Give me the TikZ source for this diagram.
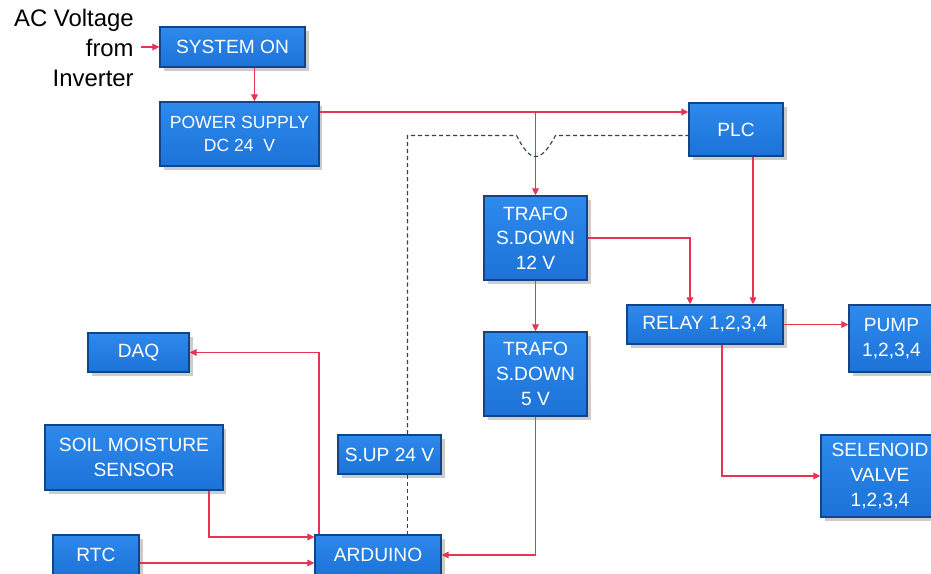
\documentclass[tikz,border=0pt]{standalone}
\usepackage{fontspec}
\setmainfont{Liberation Sans}
\usetikzlibrary{arrows.meta,shadows}
\definecolor{boxblue}{RGB}{28,114,216}
\definecolor{boxlight}{RGB}{46,138,236}
\definecolor{boxedge}{RGB}{18,68,138}
\definecolor{wirered}{RGB}{232,52,82}
\tikzset{
  blk/.style={draw=boxedge,line width=.8pt,top color=boxlight,bottom color=boxblue,
    text=white,align=center,inner sep=0pt,
    font=\fontsize{10.9}{14}\selectfont,
    drop shadow={opacity=.4,shadow xshift=2pt,shadow yshift=-2pt}},
  wire/.style={draw=wirered,line width=.7pt,-{Triangle[length=4pt,width=3.8pt]}},
  dashline/.style={draw=black!75,line width=.65pt,dash pattern=on 2.4pt off 1.6pt},
}
\begin{document}
\begin{tikzpicture}[x=0.02cm,y=-0.02cm]
	\useasboundingbox (0,0) rectangle (931,574);
	% blocks
	\node[anchor=east,align=right,inner sep=0pt,font=\fontsize{13.6}{17}\selectfont] (ac) at (134,48) {AC Voltage\\from\\Inverter};
	\node[blk,minimum width=2.9cm,minimum height=.8cm] (sys) at (232.5,47) {SYSTEM ON};
	\node[blk,minimum width=3.18cm,minimum height=1.28cm,font=\fontsize{10}{13.5}\selectfont] (psu) at (239.5,134) {POWER SUPPLY\\DC 24\ \ V};
	\node[blk,minimum width=1.88cm,minimum height=1.06cm] (plc) at (736,129.5) {PLC};
	\node[blk,minimum width=2.06cm,minimum height=1.68cm] (t12) at (535.5,238) {TRAFO\\S.DOWN\\12 V};
	\node[blk,minimum width=2.06cm,minimum height=1.68cm] (t5) at (535.5,374) {TRAFO\\S.DOWN\\5 V};
	\node[blk,minimum width=3.12cm,minimum height=.78cm] (relay) at (705,324.5) {RELAY 1,2,3,4};
	\node[blk,minimum width=1.7cm,minimum height=1.34cm] (pump) at (891.5,338.5) {PUMP\\1,2,3,4};
	\node[blk,minimum width=2.36cm,minimum height=1.64cm] (valve) at (880,476) {SELENOID\\VALVE\\1,2,3,4};
	\node[blk,minimum width=2.02cm,minimum height=.78cm] (daq) at (138.5,352.5) {DAQ};
	\node[blk,minimum width=3.56cm,minimum height=1.3cm] (soil) at (134,457.5) {SOIL MOISTURE\\SENSOR};
	\node[blk,minimum width=1.72cm,minimum height=.8cm] (rtc) at (96,555) {RTC};
	\node[blk,minimum width=2.06cm,minimum height=.78cm] (sup) at (389.5,454.5) {S.UP 24 V};
	\node[blk,minimum width=2.52cm,minimum height=.8cm] (ard) at (378,555) {ARDUINO};
	% power side
	\draw[wire] ([xshift=4pt]ac.east |- sys.west) -- (sys.west);
	\draw[wire] ([xshift=.44cm]sys.south) -- ([xshift=.44cm]sys.south |- psu.north);
	\draw[wire] ([yshift=.44cm]psu.east) -- ([yshift=.44cm]psu.east -| plc.west);
	\draw[wire] ([yshift=.44cm]psu.east -| t12.north) -- (t12.north);
	\draw[wire] (t12.east) -| ([xshift=-.3cm]relay.north);
	\draw[wire] ([xshift=.34cm]plc.south) -- ([xshift=.34cm]plc.south |- relay.north);
	\draw[wire] (t12.south) -- (t5.north);
	\draw[wire] (t5.south) |- (ard.east);
	\draw[wire] (relay.east) -- (relay.east -| pump.west);
	\draw[wire] ([xshift=.34cm]relay.south) |- (valve.west);
	% arduino side
	\draw[wire] ([xshift=-1.18cm]ard.north) |- (daq.east);
	\draw[wire] ([xshift=1.5cm]soil.south) |- ([yshift=.36cm]ard.west);
	\draw[wire] ([yshift=-.16cm]rtc.east) -- ([yshift=-.16cm]rtc.east -| ard.west);
	% dashed link
	\coordinate (dip) at ([yshift=-.12cm]plc.west -| t12.north);
	\draw[dashline] ([xshift=.36cm]sup.north) |- ([xshift=-.38cm]dip)
		.. controls ([xshift=-.1cm,yshift=-.56cm]dip) and ([xshift=.1cm,yshift=-.56cm]dip) .. ([xshift=.4cm]dip)
		-- ([yshift=-.12cm]plc.west);
	\draw[dashline] ([xshift=.36cm]sup.south) -- ([xshift=.36cm]sup.south |- ard.north);
\end{tikzpicture}
\end{document}
